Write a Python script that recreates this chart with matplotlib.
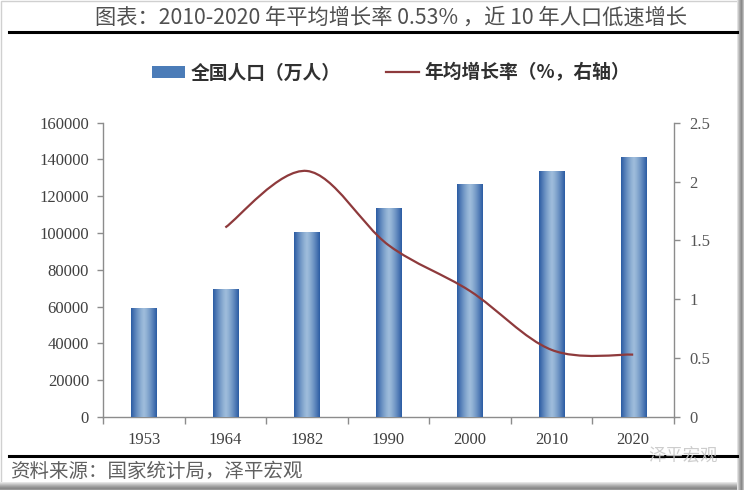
import numpy as np
import matplotlib
matplotlib.use("Agg")
import matplotlib.pyplot as plt
from matplotlib.path import Path
from matplotlib.patches import PathPatch, Rectangle, Patch
from matplotlib.lines import Line2D

plt.rcParams['font.family'] = ['Noto Sans CJK SC', 'DejaVu Sans']

# ---- data ----
years = ['1953', '1964', '1982', '1990', '2000', '2010', '2020']
population = [59000, 69458, 100818, 113368, 126583, 133972, 141178]   # 万人
growth_years = ['1964', '1982', '1990', '2000', '2010', '2020']
growth_rate = [1.61, 2.09, 1.46, 1.07, 0.57, 0.53]                       # %
left_ticks = [0, 20000, 40000, 60000, 80000, 100000, 120000, 140000, 160000]
right_ticks = [0, 0.5, 1, 1.5, 2, 2.5]
right_tick_labels = ['0', '0.5', '1', '1.5', '2', '2.5']

title = '图表：2010-2020 年平均增长率 0.53% ，近 10 年人口低速增长'
legend_labels = ['全国人口（万人）', '年均增长率（%，右轴）']
source = '资料来源：国家统计局，泽平宏观'
watermark = '泽平宏观'

W, H = 744, 490
fig = plt.figure(figsize=(W / 100, H / 100), dpi=100)
fig.patch.set_facecolor('white')

ax = fig.add_axes([103 / W, 1 - 417 / H, (674 - 103) / W, (417 - 122.7) / H])
ax2 = ax.twinx()

x = np.arange(len(years))
bar_color = '#3f6fae'
bars = ax.bar(x, population, width=0.31, color=bar_color, zorder=2)

# gradient fill on the bars (dark edges, light centre)
g = np.linspace(-1, 1, 64)
shade = np.abs(g) ** 1.3
dark = np.array([0.17, 0.36, 0.64])
light = np.array([0.62, 0.74, 0.86])
grad = light[None, :] * (1 - shade[:, None]) + dark[None, :] * shade[:, None]
grad_img = grad[None, :, :]
for b in bars:
    x0, w, h = b.get_x(), b.get_width(), b.get_height()
    im = ax.imshow(grad_img, extent=(x0, x0 + w, 0, h), aspect='auto',
                   zorder=3, interpolation='bilinear')
    im.set_clip_path(b)

serif = ['Liberation Serif', 'DejaVu Serif']
label_c = '#404040'

ax.set_xlim(-0.5, len(years) - 0.5)
ax.set_ylim(0, 160000)
ax.set_yticks(left_ticks)
ax.set_yticklabels([str(v) for v in left_ticks], fontfamily=serif, fontsize=12, color=label_c)
ax.set_xticks(x)
ax.set_xticklabels(years, fontfamily=serif, fontsize=12, color=label_c)
ax.set_xticks(np.arange(-0.5, len(years)), minor=True)

# smoothed line (Excel-like Bezier smoothing through the data points)
gx = np.array([years.index(y) for y in growth_years], dtype=float)
gy = np.array(growth_rate, dtype=float)
pts = np.column_stack([gx, gy])
verts = [tuple(pts[0])]
codes = [Path.MOVETO]
n = len(pts)
for i in range(n - 1):
    p0 = pts[i - 1] if i > 0 else pts[i]
    p1 = pts[i]
    p2 = pts[i + 1]
    p3 = pts[i + 2] if i + 2 < n else pts[i + 1]
    c1 = p1 + (p2 - p0) / 6.0
    c2 = p2 - (p3 - p1) / 6.0
    verts += [tuple(c1), tuple(c2), tuple(p2)]
    codes += [Path.CURVE4] * 3
line_color = '#8e3a3c'
ax2.add_patch(PathPatch(Path(verts, codes), facecolor='none', edgecolor=line_color,
                        lw=1.6, zorder=4))
ax2.set_ylim(0, 2.5)
ax2.set_yticks(right_ticks)
ax2.set_yticklabels(right_tick_labels, fontfamily=serif, fontsize=12, color='#555555')

spine_c = '#8c8c8c'
for a in (ax, ax2):
    for s in a.spines.values():
        s.set_color(spine_c)
        s.set_linewidth(1.0)
    a.spines['top'].set_visible(False)
ax.spines['right'].set_visible(False)
ax2.spines['left'].set_visible(False)
ax2.spines['bottom'].set_visible(False)

ax.tick_params(axis='y', direction='out', length=4, width=1, color=spine_c, pad=6)
ax.tick_params(axis='x', which='major', length=0, pad=11)
ax.tick_params(axis='x', which='minor', direction='out', length=5, width=1, color=spine_c)
ax2.tick_params(axis='y', direction='out', length=4, width=1, color=spine_c, pad=7)

# ---- title, rules, legend, source ----
fig.text(95 / W, 1 - 18 / H, title, fontsize=15.3, color='#505050', va='center', ha='left')
fig.add_artist(Line2D([9 / W, 737 / W], [1 - 32.5 / H, 1 - 32.5 / H], color='black', lw=2.2))
fig.add_artist(Line2D([9 / W, 737 / W], [1 - 455.5 / H, 1 - 455.5 / H], color='black', lw=2.2))

handles = [Patch(facecolor='#4b7cb8', edgecolor='none'),
           Line2D([0], [0], color=line_color, lw=1.6)]
leg = fig.legend(handles, legend_labels, loc='center', bbox_to_anchor=(391 / W, 1 - 73 / H),
                 ncol=2, frameon=False, handlelength=1.75, handleheight=0.55,
                 handletextpad=0.3, columnspacing=2.4,
                 prop={'size': 13.5, 'weight': 'bold'})
for t in leg.get_texts():
    t.set_color('#303030')

fig.text(10 / W, 1 - 471 / H, source, fontsize=14, color='#606060', style='italic',
         va='center', ha='left')
fig.text(648 / W, 1 - 455 / H, watermark, fontsize=12.5, color='#c8c8c8', style='italic',
         va='center', ha='left', alpha=0.9)

# ---- frame with shadow ----
fig.add_artist(Rectangle((1 / W, 0), 1 - 2 / W, 1 - 1.5 / H, transform=fig.transFigure,
                         fill=False, edgecolor='#d0d0d0', lw=1))
shades_r = ['#e2e2e2', '#c8c8c8', '#b0b0b0', '#9a9a9a', '#8a8a8a', '#a0a0a0', '#c0c0c0']
for i, c in enumerate(shades_r):
    fig.add_artist(Rectangle(((737 + i) / W, 0), 1 / W, 1, transform=fig.transFigure,
                             facecolor=c, edgecolor='none'))
shades_b = ['#e6e6e6', '#d4d4d4', '#c2c2c2', '#b0b0b0', '#a0a0a0', '#929292', '#8a8a8a', '#999999']
for i, c in enumerate(shades_b):
    fig.add_artist(Rectangle((0, (H - 482 - i - 1) / H), 737 / W, 1 / H, transform=fig.transFigure,
                             facecolor=c, edgecolor='none'))

fig.savefig('out.png', dpi=100, facecolor='white')
